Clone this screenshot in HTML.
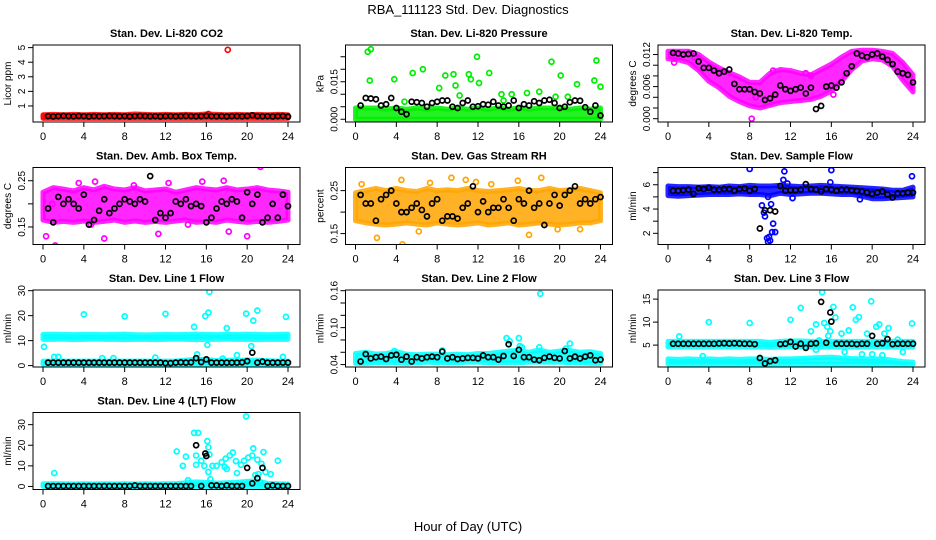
<!DOCTYPE html>
<html><head><meta charset="utf-8"><style>
body{margin:0;background:#fff}
svg{display:block;font-family:"Liberation Sans",sans-serif}
</style></head><body>
<svg id="c" width="936" height="540" viewBox="0 0 936 540">
<text x="468" y="14" text-anchor="middle" font-size="13">RBA_111123  Std. Dev. Diagnostics</text>
<text x="468" y="531" text-anchor="middle" font-size="13">Hour of Day (UTC)</text>
</svg>
<script>
const blackT=[0.5,1,1.5,2,2.5,3,3.5,4,4.5,5,5.5,6,6.5,7,7.5,8,8.5,9,9.5,10,10.5,11,11.5,12,12.5,13,13.5,14,14.5,15,15.5,16,16.5,17,17.5,18,18.5,19,19.5,20,20.5,21,21.5,22,22.5,23,23.5,24];
const bandT=[0,1,2,3,4,5,6,7,8,9,10,11,12,13,14,15,16,17,18,19,20,21,22,23,24];
const xTicks=[0,4,8,12,16,20,24];
const titles=["Stan. Dev. Li-820 CO2","Stan. Dev. Li-820 Pressure","Stan. Dev. Li-820 Temp.","Stan. Dev. Amb. Box Temp.","Stan. Dev. Gas Stream RH","Stan. Dev. Sample Flow","Stan. Dev. Line 1 Flow","Stan. Dev. Line 2 Flow","Stan. Dev. Line 3 Flow","Stan. Dev. Line 4 (LT) Flow"];
const yTitles=["Licor ppm","kPa","degrees C","degrees C","percent","ml/min","ml/min","ml/min","ml/min","ml/min"];
const yDomains=[[-0.1,5.18],[-0.0011,0.0297],[-0.00062,0.01378],[0.1121,0.2786],[0.1246,0.3038],[1.08,7.42],[-0.56,30.27],[0.0361,0.1611],[0.24,16.98],[-1.48,35.9]];
const yTicks=[[1,2,3,4,5],[0,0.005,0.01,0.015,0.02,0.025],[0,0.002,0.004,0.006,0.008,0.01,0.012],[0.15,0.2,0.25],[0.15,0.2,0.25],[2,3,4,5,6,7],[0,10,20,30],[0.04,0.06,0.08,0.1,0.12,0.14,0.16],[5,10,15],[0,10,20,30]];
const yTickLabels=[["1","2","3","4","5"],["0.000","","","0.015","",""],["0.000","","","0.006","","","0.012"],["0.15","","0.25"],["0.15","","0.25"],["2","","4","","6",""],["0","10","20","30"],["0.04","","","0.10","","","0.16"],["5","10","15"],["0","10","20","30"]];
const colors=["#ff0000","#00ee00","#ff00ff","#ff00ff","#ffa500","#0000ff","#00ffff","#00ffff","#00ffff","#00ffff"];
const bandLo=[
[0.15,0.15,0.15,0.15,0.15,0.15,0.15,0.15,0.15,0.15,0.15,0.15,0.15,0.15,0.15,0.15,0.15,0.15,0.15,0.15,0.15,0.15,0.15,0.15,0.15],
[0,0,0,0,0,0,0,0,0,0,0,0,0,0,0,0,0,0,0,0,0,0,0,0,0],
[0.0112,0.011,0.0105,0.009,0.007,0.0058,0.0042,0.0032,0.0024,0.002,0.0025,0.003,0.0032,0.0034,0.0036,0.0042,0.0052,0.007,0.0092,0.0108,0.0112,0.011,0.0098,0.0072,0.005],
[0.165,0.16,0.162,0.16,0.163,0.16,0.162,0.165,0.16,0.163,0.16,0.162,0.16,0.163,0.165,0.16,0.162,0.16,0.165,0.162,0.16,0.162,0.16,0.162,0.165],
[0.18,0.175,0.172,0.17,0.172,0.175,0.172,0.17,0.175,0.172,0.17,0.172,0.175,0.17,0.172,0.175,0.17,0.172,0.175,0.172,0.17,0.172,0.175,0.175,0.18],
[5.1,5.05,5.1,5.15,5.2,5.2,5.2,5.25,5.2,5.2,5.1,5.3,5.2,5.25,5.3,5.3,5.25,5.2,5.2,5.05,4.85,4.85,4.9,4.95,5.0],
[10.5,10.5,10.6,10.4,10.5,10.6,10.5,10.5,10.4,10.5,10.5,10.4,10.5,10.6,10.5,10.4,10.5,10.5,10.6,10.5,10.5,10.4,10.5,10.5,10.5],
[0.042,0.042,0.043,0.043,0.043,0.042,0.043,0.044,0.043,0.043,0.043,0.044,0.044,0.043,0.043,0.043,0.043,0.044,0.044,0.044,0.044,0.043,0.043,0.042,0.042],
[4.6,4.6,4.6,4.6,4.6,4.6,4.6,4.6,4.6,4.6,4.5,4.6,4.6,4.6,4.6,4.6,4.6,4.6,4.6,4.6,4.6,4.6,4.6,4.6,4.6],
[0,0,0,0,0,0,0,0,0,0,0,0,0,0,0,0,0,0,0,0,0,0,0,0,0]];
const bandHi=[
[0.4,0.42,0.4,0.42,0.4,0.42,0.4,0.42,0.4,0.45,0.42,0.4,0.42,0.4,0.42,0.4,0.45,0.42,0.4,0.42,0.4,0.42,0.4,0.42,0.4],
[0.0045,0.0045,0.0045,0.004,0.0045,0.004,0.0045,0.004,0.0045,0.004,0.0045,0.004,0.0045,0.004,0.0045,0.004,0.0045,0.004,0.0045,0.0045,0.0045,0.004,0.0045,0.004,0.0045],
[0.0126,0.0126,0.0126,0.012,0.0106,0.0095,0.0086,0.0078,0.0068,0.0068,0.0085,0.0092,0.009,0.0085,0.0082,0.0092,0.0102,0.0115,0.0126,0.0128,0.0128,0.0126,0.0122,0.0105,0.0082],
[0.225,0.235,0.232,0.228,0.235,0.23,0.238,0.232,0.23,0.235,0.228,0.23,0.232,0.225,0.23,0.235,0.232,0.23,0.235,0.23,0.232,0.235,0.23,0.228,0.225],
[0.245,0.25,0.255,0.25,0.255,0.25,0.248,0.255,0.25,0.252,0.25,0.255,0.25,0.248,0.25,0.252,0.255,0.25,0.25,0.255,0.25,0.252,0.255,0.25,0.245],
[5.9,5.85,5.85,5.8,5.85,5.8,5.9,5.85,5.95,5.9,5.9,5.95,5.9,5.85,5.9,5.95,5.9,5.85,5.8,5.75,5.7,5.65,5.55,5.55,5.8],
[12.5,12.6,12.5,12.4,12.5,12.5,12.4,12.5,12.6,12.4,12.3,12.4,12.5,12.4,12.5,12.6,12.5,12.4,12.5,12.5,12.6,12.5,12.4,12.5,12.6],
[0.058,0.06,0.057,0.058,0.061,0.057,0.056,0.057,0.057,0.056,0.057,0.056,0.058,0.058,0.06,0.062,0.063,0.06,0.064,0.06,0.062,0.063,0.06,0.061,0.058],
[5.8,5.8,5.8,5.8,5.8,5.8,5.8,5.8,5.8,5.8,5.6,5.8,5.9,5.9,5.8,5.8,5.8,5.8,5.8,5.8,5.8,5.8,5.8,5.8,5.8],
[1.3,1.4,1.3,1.2,1.3,1.2,1.3,1.2,1.3,1.2,1.3,1.2,1.3,1.3,1.8,2.2,2,1.6,1.8,2,2.5,2.6,1.5,1.3,1.2]];
const band2Idx=[6,8];
const band2Lo=[[0.6,0.6,0.6,0.6,0.6,0.6,0.6,0.6,0.6,0.6,0.6,0.6,0.6,0.6,0.6,0.6,0.6,0.6,0.6,0.6,0.6,0.6,0.6,0.6,0.6],[0.9,0.9,0.9,0.9,0.9,0.9,0.9,0.9,0.9,0.9,0.9,0.9,0.9,0.9,0.9,0.9,0.9,0.9,0.9,0.9,0.9,0.9,0.8,0.7,0.8]];
const band2Hi=[[1.8,1.8,1.8,1.8,1.8,1.8,1.8,1.8,1.8,1.8,1.8,1.8,1.8,1.8,2.2,2.5,2.5,2,2.2,2.2,2.2,2.2,2,1.8,1.8],[2,1.9,2,1.9,2,1.9,2,1.9,2,2,1.9,2,2,2.1,2.2,2.3,2.4,2.2,2.1,2,2,2,1.7,1.4,1.3]];
const outX=[[18.1,0.1,16.2,20.6],[1.2,1.5,1.4,3.8,5.6,6.6,8.2,8.8,9.6,9.8,10.2,11.1,11.3,11.9,12.1,13.1,14.3,15.3,16.8,18,19.2,19.6,20.1,20.8,21.7,23.4,23.6,24,4.8,14.5],[8.2,0.6,2.6,8.6,10.3,13.5,14,16.2],[2.2,21.3,1.2,0.3,6,11.3,12.3,15.6,18.2,4.7,20,5.1,0.9,14.2,17.7,8.9,3.5],[4.6,2.1,9.4,10.8,15.9,18.2,7.3,4.5,17,0.6,11.8,19.8,22,6.2,13.3],[8,11.4,16,23.9,9.2,9.4,9.5,9.7,9.8,9.9,10,10.2,10.5,10.3,10.1,11.3,12.2,18.8,9.8,11.7,15.9],[0.1,4,8,12,14.8,15.9,16.2,16.3,16.1,18,19.9,20.4,20.6,21,23.8,1.5,5.8,19,15.1,23.5,1.1,6.9,11,17.6],[18.1,14.8,16,21,15.1,18,16.3,16.1,3.8,8.5,20.6],[1.1,4,8,12,13,15.1,14,14.5,15.3,15.6,16.2,16.4,17,17.7,18.1,18.4,18.7,19.5,19.9,20.4,20.7,21.2,21.6,23.9,23,14.5,15.7,16.5,19,20,21,3.4,14.8,15.9,17.3,22.5],[1.1,13.1,13.7,14,14.8,15.2,15,15,15.5,15.8,16.1,16.2,16.3,16.2,16.4,16.6,17,17.5,17.8,18,17.9,18.3,18.6,18.9,19,19.4,19.7,19.9,20.1,20.5,20.6,21,20.8,21.1,21.4,21.6,21.8,22.3,23,14.2,21.3]];
const outY=[[4.85,0.28,0.45,0.32],[0.027,0.028,0.0155,0.016,0.0185,0.02,0.0125,0.0175,0.018,0.0135,0.0095,0.018,0.016,0.025,0.0145,0.0185,0.01,0.01,0.0105,0.011,0.023,0.009,0.0175,0.009,0.014,0.0155,0.0235,0.013,0.007,0.0075],[0,0.0105,0.0115,0.004,0.009,0.0085,0.008,0.0045],[0.285,0.28,0.11,0.13,0.125,0.135,0.245,0.248,0.14,0.155,0.13,0.248,0.2,0.155,0.25,0.24,0.245],[0.125,0.14,0.28,0.275,0.273,0.28,0.268,0.275,0.147,0.265,0.27,0.16,0.16,0.155,0.265],[7.3,7.1,7.2,6.7,4.3,3.7,3.4,1.6,1.3,1.7,1.4,2.1,2.1,2.8,4.4,6.4,4.9,4.8,5,6.1,6.2],[7.5,20.5,19.7,20.7,15.5,19.8,21.2,29.5,8.3,15,20.8,7.8,18,22,19.5,3.5,3,4.2,4.5,3.5,3.5,3,3.2,2.8],[0.155,0.083,0.083,0.074,0.078,0.068,0.068,0.07,0.062,0.063,0.066],[6.9,10,9.8,10.5,13.1,16.5,8,9.5,9.8,9,13.3,11,7.5,8.2,13.2,10.5,11.1,7.5,14.5,9,9.5,7.5,8.7,9.7,3.5,4,7,5.5,3,3,2.8,2.6,6,8,3.5,6.2],[6.5,17,10,14.5,26,26,15,10.5,12.5,10,22,19,15.5,7,3.5,10,10,11.8,9.5,8.5,13.5,15,16.5,12.3,6.5,10.5,12.5,34,14,15,18.5,13,5.5,6,11,16.7,7,6,12.5,3,2]];
const blackY=[
[0.3,0.28,0.3,0.32,0.3,0.29,0.31,0.3,0.28,0.3,0.29,0.3,0.31,0.3,0.29,0.3,0.28,0.3,0.31,0.3,0.29,0.3,0.28,0.3,0.3,0.29,0.3,0.31,0.3,0.29,0.3,0.32,0.3,0.29,0.3,0.28,0.3,0.3,0.29,0.31,0.36,0.3,0.29,0.3,0.28,0.3,0.31,0.27],
[0.0055,0.0085,0.0083,0.008,0.0055,0.006,0.0085,0.0045,0.003,0.002,0.007,0.0068,0.0065,0.005,0.0065,0.007,0.0075,0.0075,0.005,0.0045,0.0065,0.0075,0.005,0.0052,0.006,0.0058,0.007,0.0055,0.005,0.0055,0.0075,0.0045,0.006,0.0055,0.0072,0.0065,0.0075,0.0078,0.0065,0.0045,0.005,0.0068,0.0075,0.0074,0.0048,0.003,0.0055,0.0015],
[0.0123,0.0122,0.012,0.0121,0.0122,0.0107,0.0095,0.0095,0.009,0.0085,0.0088,0.0092,0.0065,0.0055,0.0055,0.0055,0.005,0.0047,0.0035,0.0038,0.0045,0.0062,0.0055,0.0052,0.0055,0.0058,0.0047,0.0058,0.0018,0.0024,0.006,0.0062,0.0058,0.0068,0.0085,0.0098,0.0122,0.0118,0.0115,0.012,0.0122,0.0116,0.011,0.0102,0.0088,0.0085,0.0082,0.0068],
[0.19,0.16,0.215,0.2,0.21,0.2,0.19,0.22,0.155,0.165,0.185,0.21,0.18,0.19,0.2,0.21,0.205,0.2,0.21,0.205,0.26,0.165,0.18,0.17,0.18,0.205,0.2,0.21,0.195,0.2,0.195,0.16,0.17,0.19,0.205,0.2,0.21,0.205,0.17,0.225,0.2,0.22,0.16,0.17,0.2,0.17,0.22,0.195],
[0.24,0.22,0.22,0.18,0.23,0.24,0.25,0.22,0.2,0.2,0.21,0.22,0.205,0.19,0.22,0.23,0.18,0.19,0.19,0.185,0.21,0.22,0.26,0.2,0.225,0.2,0.21,0.21,0.23,0.21,0.18,0.23,0.22,0.25,0.21,0.22,0.17,0.22,0.24,0.215,0.24,0.25,0.26,0.22,0.23,0.22,0.23,0.235],
[5.5,5.5,5.55,5.6,5.25,5.7,5.65,5.75,5.6,5.6,5.65,5.65,5.5,5.65,5.7,5.5,5.65,2.4,3.9,3.9,3.8,5.9,5.5,5.55,5.55,5.6,6.05,5.65,5.6,5.45,5.65,5.6,5.5,5.6,5.6,5.55,5.5,5.45,5.35,5.25,5.35,5.45,5.2,4.95,5.3,5.3,5.35,5.35],
[1.2,1.2,1.2,1.2,1.2,1.2,1.2,1.2,1.2,1.2,1.2,1.2,1.2,1.2,1.2,1.2,1.2,1.2,1.2,1.2,1.2,1.2,1.2,1,1,1.2,1.3,1.2,1.3,3,1.4,2.5,1.2,1.2,1.2,1.2,1.2,1.2,1.3,1.8,5.2,1.2,1.6,1.2,1.2,1.2,1.2,1.2],
[0.045,0.057,0.05,0.052,0.053,0.049,0.055,0.056,0.048,0.053,0.045,0.052,0.05,0.052,0.053,0.052,0.061,0.05,0.052,0.049,0.05,0.051,0.051,0.05,0.055,0.052,0.052,0.048,0.054,0.073,0.054,0.064,0.052,0.052,0.048,0.047,0.051,0.053,0.051,0.05,0.062,0.05,0.053,0.05,0.053,0.055,0.047,0.048],
[5.3,5.3,5.3,5.3,5.3,5.3,5.3,5.3,5.3,5.35,5.4,5.35,5.4,5.35,5.3,5.3,5.2,2.2,1,1.5,1.7,5.2,5.3,5.7,4.7,5.3,4.4,5.3,5.4,14.4,5.5,10.1,5.3,5.3,5.3,5.3,5.2,5.3,5.3,7,5.3,5.4,6.3,5.2,5.3,5.3,5.3,5.3],
[0.2,0.2,0.2,0.2,0.2,0.2,0.2,0.2,0.2,0.2,0.2,0.2,0.2,0.2,0.2,0.2,0.2,0.5,0.2,0.2,0.2,0.2,0.2,0.2,0.2,0.2,0.2,0.2,0.2,20,0.2,14.8,0.5,0.5,0.2,0.5,0.2,0.2,0.2,9,1.5,4,9,0.2,0.5,0.2,0.2,0.2]];
const blackExtraX=[[],[],[],[],[],[],[],[],[15.9],[15.9]];
const blackExtraY=[[],[],[],[],[],[],[],[],[12.1],[16]];

const NS="http://www.w3.org/2000/svg";
const svg=document.getElementById('c');
function mk(tag,attrs,parent){const e=document.createElementNS(NS,tag);for(const k in attrs)e.setAttribute(k,attrs[k]);(parent||svg).appendChild(e);return e;}
const BOX_W=267,BOX_H=77;
for(let p=0;p<10;p++){
  const col=p%3,row=Math.floor(p/3);
  const L=33+312.5*col,T=45+122.5*row,B=T+BOX_H,R=L+BOX_W;
  const x0=43+312.5*col,x24=288+312.5*col;
  const xs=v=>x0+(x24-x0)*v/24;
  const [d0,d1]=yDomains[p];
  const ys=v=>B-(v-d0)/(d1-d0)*BOX_H;
  const g=mk('g',{});
  
  
  const cp=mk('clipPath',{id:'cp'+p},g);mk('rect',{x:L,y:T,width:BOX_W,height:BOX_H},cp);
  const plot=mk('g',{'clip-path':'url(#cp'+p+')'},g);
  
  
  const col_=colors[p];
  function band(lo,hi,name){
    let pts=bandT.map((t,i)=>xs(t)+','+ys(hi[i]));
    for(let i=bandT.length-1;i>=0;i--)pts.push(xs(bandT[i])+','+ys(lo[i]));
    const pg=mk('polygon',{points:pts.join(' '),fill:col_,stroke:col_,'stroke-width':5,'stroke-linejoin':'round','fill-opacity':0.85,'stroke-opacity':0.85},plot);
    
    
  }
  band(bandLo[p],bandHi[p],'series-band');
  const bi=band2Idx.indexOf(p);
  if(bi>=0)band(band2Lo[bi],band2Hi[bi],'series-band-lower');
  outX[p].forEach((x,i)=>{
    const c=mk('circle',{cx:xs(x),cy:ys(outY[p][i]),r:2.5,fill:'none',stroke:col_,'stroke-width':1.7},plot);
    
    
  });
  const bx=blackT.concat(blackExtraX[p]),by=blackY[p].concat(blackExtraY[p]);
  bx.forEach((x,i)=>{
    const c=mk('circle',{cx:xs(x),cy:ys(by[i]),r:2.5,fill:'none',stroke:'#000','stroke-width':1.7},plot);
    
    
  });
  const box=mk('rect',{x:L,y:T,width:BOX_W,height:BOX_H,fill:'none',stroke:'#000','stroke-width':1},g);
  
  
  const tt=mk('text',{x:(L+R)/2,y:T-8,'text-anchor':'middle','font-size':11,'font-weight':'bold'},g);
  tt.textContent=titles[p];
  
  
  const xa=mk('g',{},g);
  
  
  mk('line',{x1:xs(0),x2:xs(24),y1:B,y2:B,stroke:'#000'},xa);
  xTicks.forEach(v=>{
    mk('line',{x1:xs(v),x2:xs(v),y1:B,y2:B+5,stroke:'#000'},xa);
    const t=mk('text',{x:xs(v),y:B+18,'text-anchor':'middle','font-size':11},xa);t.textContent=v;
    
    
  });
  const ya=mk('g',{},g);
  
  
  const yt=yTicks[p];
  mk('line',{x1:L,x2:L,y1:ys(yt[0]),y2:ys(yt[yt.length-1]),stroke:'#000'},ya);
  yt.forEach((v,i)=>{
    mk('line',{x1:L-5,x2:L,y1:ys(v),y2:ys(v),stroke:'#000'},ya);
    if(yTickLabels[p][i]){
      const t=mk('text',{x:L-8,y:ys(v),'text-anchor':'middle','font-size':10,transform:'rotate(-90 '+(L-8)+' '+ys(v)+')'},ya);
      t.textContent=yTickLabels[p][i];
      
      
    }
  });
  const yl=mk('text',{x:L-22,y:(T+B)/2,'text-anchor':'middle','font-size':10,transform:'rotate(-90 '+(L-22)+' '+((T+B)/2)+')'},g);
  yl.textContent=yTitles[p];
  
  
}
</script>
</body></html>
